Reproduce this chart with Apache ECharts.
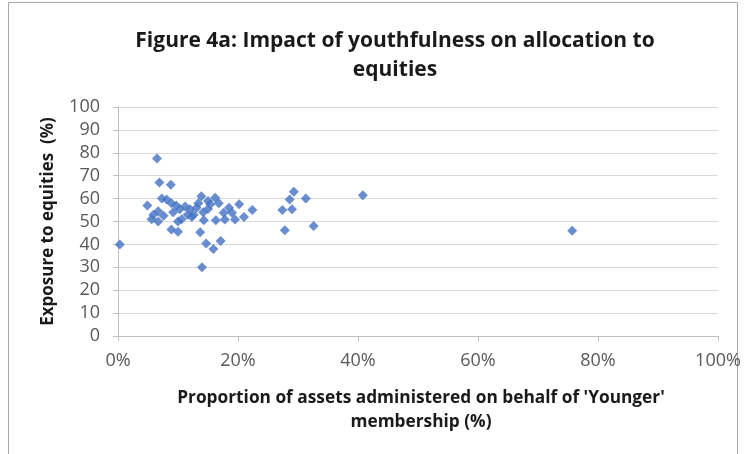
<!DOCTYPE html>
<html>
<head>
<meta charset="utf-8">
<script src="https://cdn.jsdelivr.net/npm/echarts@6/dist/echarts.min.js"></script>
<style>
  html, body { margin: 0; padding: 0; background: #fff; }
  #chart { width: 754px; height: 454px; }
</style>
</head>
<body>
<div id="chart"></div>
<script>
// Share of assets held for 'Younger' members (%) and equity exposure (%) per fund
const youngerShare = [
  0.3, 4.9, 5.6, 5.9, 6.5, 6.7, 6.7, 6.9, 7.3, 8.1,
  8.8, 8.9, 8.9, 9.2, 10.0, 10.0, 10.3, 10.6, 11.2, 12.0,
  12.6, 13.1, 13.7, 13.9, 13.4, 14.0, 14.3, 14.7, 15.0, 15.0,
  15.4, 15.9, 16.2, 16.3, 16.8, 17.1, 17.6, 17.8, 18.5, 19.0,
  19.5, 20.2, 21.0, 22.4, 27.4, 27.8, 28.6, 29.0, 29.3, 31.3,
  32.6, 40.8, 75.7, 12.3, 11.6, 9.7, 7.6, 14.2
];
const equityExposure = [
  40, 57, 51, 53, 77.5, 54.5, 50, 67, 60, 59.6,
  66, 58, 46.5, 54, 50, 45.5, 55.3, 51, 56.5, 55.3,
  53, 56, 45.3, 61, 58, 30, 50.6, 40.4, 55.5, 59,
  57.5, 38, 60.4, 50.6, 58, 41.5, 53.8, 50.9, 56, 53.8,
  50.9, 57.5, 52, 55, 55, 46.2, 59.6, 55.3, 63, 60,
  48, 61.5, 46, 52, 53, 57, 52.5, 54
];
const xTicks = [0, 20, 40, 60, 80, 100];
const yTicks = [0, 10, 20, 30, 40, 50, 60, 70, 80, 90, 100];

const points = youngerShare.map((x, i) => [x, equityExposure[i]]);

const FONT = "'Open Sans', 'Liberation Sans', sans-serif";
const chart = echarts.init(document.getElementById('chart'), null, { renderer: 'canvas' });

// chart frame
const frameColor = '#a6a6a6';
const frameLine = (x1, y1, x2, y2) => ({
  type: 'line', silent: true,
  shape: { x1, y1, x2, y2 },
  style: { stroke: frameColor, lineWidth: 1 }
});

chart.setOption({
  backgroundColor: '#ffffff',
  animation: false,
  title: [{
    text: 'Figure 4a: Impact of youthfulness on allocation to\nequities',
    left: 390,
    textAlign: 'center',
    top: 22,
    textStyle: {
      fontFamily: FONT,
      fontSize: 21,
      fontWeight: 'bold',
      color: '#1a1a1a',
      lineHeight: 29
    }
  }, {
    text: "Proportion of assets administered on behalf of 'Younger'\nmembership (%)",
    left: 416,
    textAlign: 'center',
    top: 381,
    textStyle: {
      fontFamily: FONT,
      fontSize: 17.3,
      fontWeight: 'bold',
      color: '#1a1a1a',
      lineHeight: 24
    }
  }],
  graphic: [
    frameLine(8.5, 2.5, 737.5, 2.5),
    frameLine(8.5, 2.5, 8.5, 454),
    frameLine(737.5, 2.5, 737.5, 454)
  ],
  grid: { left: 118, right: 36, top: 107, bottom: 118 },
  xAxis: {
    type: 'value',
    min: 0, max: 100, interval: 20,
    axisLine: { show: true, lineStyle: { color: '#bfbfbf' } },
    axisTick: { show: true, length: 5, inside: false, lineStyle: { color: '#bfbfbf' } },
    splitLine: { show: false },
    axisLabel: {
      margin: 16,
      fontFamily: FONT, fontSize: 18, color: '#595959',
      formatter: v => xTicks.includes(v) ? v + '%' : ''
    }
  },
  yAxis: {
    type: 'value',
    min: 0, max: 100, interval: 10,
    name: 'Exposure to equities  (%)',
    nameLocation: 'middle',
    nameGap: 61,
    nameTextStyle: { fontFamily: FONT, fontSize: 17, fontWeight: 'bold', color: '#1a1a1a' },
    axisLine: { show: true, lineStyle: { color: '#bfbfbf' } },
    axisTick: { show: true, length: 5, lineStyle: { color: '#bfbfbf' } },
    splitLine: { show: true, lineStyle: { color: '#d9d9d9', width: 1 } },
    axisLabel: {
      margin: 18,
      fontFamily: FONT, fontSize: 18, color: '#595959',
      formatter: v => yTicks.includes(v) ? String(v) : ''
    }
  },
  series: [{
    type: 'scatter',
    symbol: 'diamond',
    symbolSize: 10,
    itemStyle: { color: '#4472c4' },
    data: points
  }]
});
</script>
</body>
</html>
